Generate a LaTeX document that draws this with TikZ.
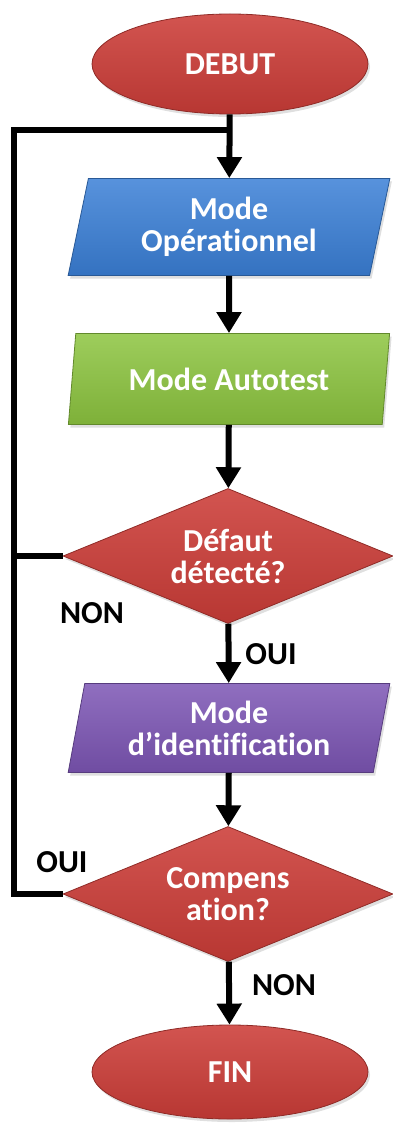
\documentclass[tikz,border=0pt]{standalone}
\usepackage{fontspec}
\setmainfont{Carlito}[Ligatures=NoCommon]
\usetikzlibrary{arrows.meta,shapes.geometric,shadows}

\definecolor{ffred}{HTML}{CC3D38}
\definecolor{ffblue}{HTML}{3A7FD6}
\definecolor{ffgreen}{HTML}{8CC43F}
\definecolor{ffpurple}{HTML}{7C55B4}

\tikzset{
  boxtext/.style={text=white, font=\bfseries\fontsize{32}{32}\selectfont, align=center},
  startstop/.style={ellipse, boxtext, minimum width=276pt, minimum height=100pt, inner sep=0pt,
    top color=ffred!88!white, bottom color=ffred!90!black, draw=ffred!70!black, line width=0.8pt,
    drop shadow={opacity=0.25, shadow xshift=2pt, shadow yshift=-3pt}},
  modebox/.style={trapezium, trapezium left angle=78, trapezium right angle=102, trapezium stretches=true,
    boxtext, minimum width=322pt, inner sep=0pt, line width=0.8pt,
    top color=#1!85!white, bottom color=#1!90!black, draw=#1!70!black,
    drop shadow={opacity=0.25, shadow xshift=2pt, shadow yshift=-3pt}},
  decision/.style={diamond, aspect=2.44, boxtext, minimum width=330pt, minimum height=135pt, inner sep=0pt, line width=0.8pt,
    top color=ffred!88!white, bottom color=ffred!90!black, draw=ffred!70!black,
    drop shadow={opacity=0.25, shadow xshift=2pt, shadow yshift=-3pt}},
  answer/.style={font=\bfseries\fontsize{32}{32}\selectfont, text=black},
  flow/.style={line width=6pt, -{Triangle[width=24pt, length=21pt]}},
  loopline/.style={line width=6pt}
}

\begin{document}
\begin{tikzpicture}[x=1pt, y=-1pt]
	\useasboundingbox (0,0) rectangle (392,1126);
	\node[startstop] (debut) at (230,64) {DEBUT};
	\node[modebox=ffblue, minimum height=97pt] (oper) at (229,227) {Mode\\Opérationnel};
	\node[modebox=ffgreen, minimum height=91pt] (auto) at (229,379) {Mode Autotest};
	\node[decision] (defaut) at (228,556) {Défaut\\détecté?};
	\node[modebox=ffpurple, minimum height=89pt] (ident) at (229,728) {Mode\\d’identification};
	\node[decision] (comp) at (228,894) {Compens\\ation?};
	\node[startstop, minimum height=94pt] (fin) at (230,1072) {FIN};
	
	\node[answer] (non1) at (92,613) {NON};
	\node[answer] (oui1) at (271,654) {OUI};
	\node[answer] (oui2) at (62,862) {OUI};
	\node[answer] (non2) at (284,985) {NON};
	
	\coordinate (join) at (230,130);
	\coordinate (topleft) at (14,130);
	\coordinate (botleft) at (14,894);
	
	\draw[flow] (debut) -- (oper);
	\draw[flow] (oper) -- (auto);
	\draw[flow] (auto) -- (defaut);
	\draw[flow] (defaut) -- (ident);
	\draw[flow] (ident) -- (comp);
	\draw[flow] (comp) -- (fin);
	\draw[loopline] (comp.west) -- (botleft) -- (topleft) -- (join);
	\draw[loopline] (defaut.west) -- (defaut.west -| topleft);
\end{tikzpicture}
\end{document}
